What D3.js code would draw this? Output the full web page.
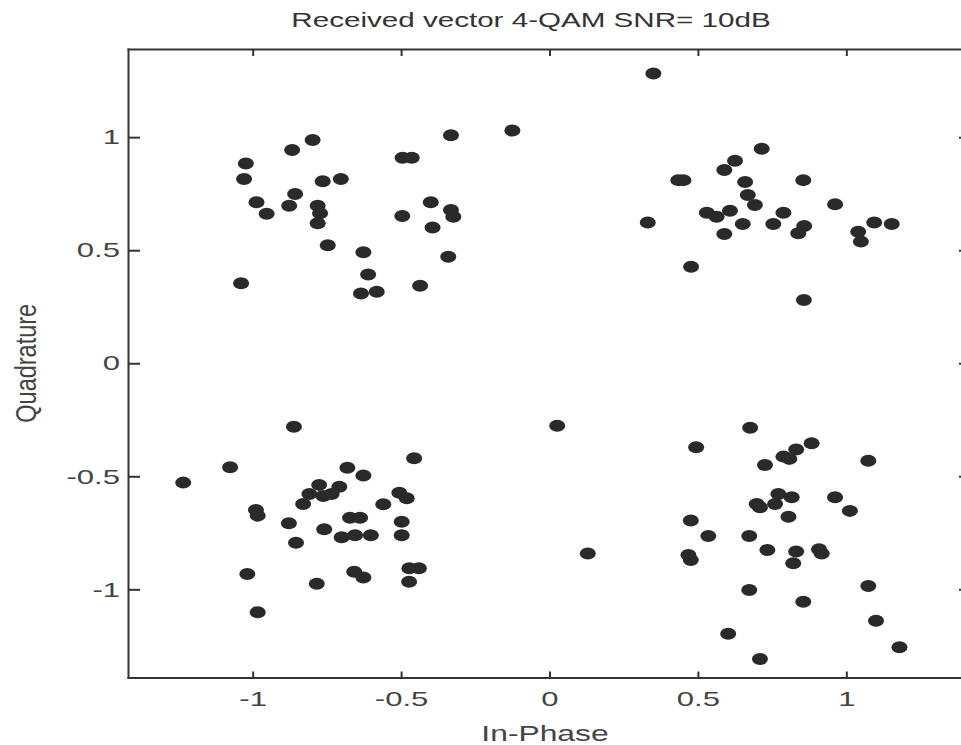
<!DOCTYPE html>
<html>
<head>
<meta charset="utf-8">
<script src="https://cdn.jsdelivr.net/npm/d3@7"></script>
<style>
  body { margin: 0; background: #fff; overflow: hidden; }
  svg { display: block; }
  .axis path, .axis line { stroke: #333; stroke-width: 2; }
  .axis text { font-family: "Liberation Sans", Arial, sans-serif; font-size: 21px; fill: #444; }
</style>
</head>
<body>
<div id="chart"></div>
<script>
// received symbols, [in-phase, quadrature], one list per quadrant
var upperLeft = [
  [-1.023,0.884],[-1.029,0.815],[-0.987,0.712],[-0.953,0.661],[-0.867,0.943],[-0.798,0.987],
  [-0.857,0.749],[-0.877,0.697],[-0.764,0.805],[-0.703,0.815],[-0.781,0.697],[-0.773,0.663],
  [-0.781,0.619],[-0.747,0.522],[-0.627,0.491],[-0.611,0.393],[-0.635,0.309],[-0.582,0.316],
  [-1.039,0.354],[-0.495,0.909],[-0.464,0.909],[-0.332,1.009],[-0.125,1.029],[-0.400,0.712],
  [-0.332,0.678],[-0.324,0.648],[-0.496,0.651],[-0.394,0.600],[-0.341,0.471],[-0.436,0.343]
];
var upperRight = [
  [0.350,1.282],[0.715,0.949],[0.625,0.896],[0.589,0.855],[0.434,0.810],[0.451,0.810],
  [0.659,0.802],[0.855,0.810],[0.668,0.744],[0.692,0.700],[0.962,0.703],[0.530,0.666],
  [0.563,0.648],[0.608,0.675],[0.651,0.616],[0.589,0.572],[0.754,0.616],[0.788,0.666],
  [0.858,0.607],[0.838,0.575],[1.040,0.582],[1.049,0.538],[1.094,0.623],[1.153,0.616],
  [0.331,0.623],[0.477,0.427],[0.857,0.280]
];
var lowerLeft = [
  [-0.861,-0.281],[-1.076,-0.460],[-1.234,-0.528],[-0.456,-0.420],[-0.681,-0.462],[-0.627,-0.496],
  [-0.776,-0.538],[-0.708,-0.546],[-0.809,-0.578],[-0.762,-0.587],[-0.734,-0.578],[-0.830,-0.623],
  [-0.560,-0.624],[-0.506,-0.573],[-0.481,-0.597],[-0.989,-0.649],[-0.983,-0.674],[-0.878,-0.708],
  [-0.854,-0.794],[-0.759,-0.734],[-0.672,-0.683],[-0.638,-0.683],[-0.700,-0.770],[-0.655,-0.761],
  [-0.602,-0.761],[-0.498,-0.701],[-0.498,-0.761],[-1.018,-0.932],[-0.983,-1.101],[-0.784,-0.975],
  [-0.658,-0.922],[-0.627,-0.948],[-0.472,-0.907],[-0.440,-0.907],[-0.473,-0.966]
];
var lowerRight = [
  [0.026,-0.276],[0.129,-0.841],[0.676,-0.285],[0.494,-0.372],[0.726,-0.450],[0.788,-0.413],
  [0.808,-0.423],[0.831,-0.381],[0.883,-0.354],[1.074,-0.431],[0.771,-0.578],[0.816,-0.593],
  [0.760,-0.623],[0.698,-0.623],[0.709,-0.637],[0.805,-0.679],[0.962,-0.593],[1.012,-0.653],
  [0.476,-0.696],[0.535,-0.764],[0.673,-0.764],[0.734,-0.826],[0.831,-0.833],[0.821,-0.885],
  [0.908,-0.823],[0.917,-0.841],[0.468,-0.848],[0.476,-0.870],[0.673,-1.003],[0.855,-1.055],
  [1.074,-0.985],[1.100,-1.139],[0.602,-1.197],[0.709,-1.308],[1.179,-1.256]
];
var xTicks = [-1, -0.5, 0, 0.5, 1];
var yTicks = [-1, -0.5, 0, 0.5, 1];
var titleText = "Received vector 4-QAM SNR= 10dB";
var xLabel = "In-Phase";
var yLabel = "Quadrature";

var width = 961, height = 745;
var margin = {top: 49, right: -10, bottom: 67.5, left: 128};
var stretch = 1.48; // the picture is wider than it is tall, text too

var svg = d3.select("#chart").append("svg")
  .attr("width", width)
  .attr("height", height);

var x = d3.scaleLinear()
  .domain([-1.42, 1.42])
  .range([margin.left, width - margin.right]);

var y = d3.scaleLinear()
  .domain([-1.39, 1.39])
  .range([height - margin.bottom, margin.top]);

var fmt = d => d === 0 ? "0" : String(d).replace("-", "-");

// bottom axis with labels
var gx = svg.append("g")
  .attr("class", "axis")
  .attr("transform", `translate(0,${y.range()[0]})`)
  .call(d3.axisBottom(x).tickValues(xTicks).tickSizeInner(-6).tickSizeOuter(0).tickPadding(14).tickFormat(fmt));
gx.selectAll("text").attr("transform", `scale(${stretch},1)`);

// top axis, ticks only
svg.append("g")
  .attr("class", "axis")
  .attr("transform", `translate(0,${y.range()[1]})`)
  .call(d3.axisTop(x).tickValues(xTicks).tickSizeInner(-7).tickSizeOuter(0).tickFormat(""));

// left axis with labels
var gy = svg.append("g")
  .attr("class", "axis")
  .attr("transform", `translate(${x.range()[0]},0)`)
  .call(d3.axisLeft(y).tickValues(yTicks).tickSizeInner(-12).tickSizeOuter(0).tickPadding(9).tickFormat(fmt));
gy.selectAll("text")
  .attr("x", -8 / stretch)
  .attr("transform", `scale(${stretch},1)`);

// right axis, ticks only
svg.append("g")
  .attr("class", "axis")
  .attr("transform", `translate(${x.range()[1]},0)`)
  .call(d3.axisRight(y).tickValues(yTicks).tickSizeInner(-12).tickSizeOuter(0).tickFormat(""));

svg.selectAll(".axis path").attr("stroke-linecap", "square");

// points
var points = [].concat(upperLeft, upperRight, lowerLeft, lowerRight);

svg.append("g")
  .selectAll("ellipse")
  .data(points)
  .enter().append("ellipse")
    .attr("cx", d => x(d[0]))
    .attr("cy", d => y(d[1]))
    .attr("rx", 8)
    .attr("ry", 6)
    .style("fill", "#2a2a2a");

// title and labels
svg.append("text")
  .attr("transform", `translate(531,27) scale(${stretch},1)`)
  .attr("text-anchor", "middle")
  .style("font-family", "'Liberation Sans', Arial, sans-serif")
  .style("font-size", "20px")
  .style("fill", "#333")
  .text(titleText);

svg.append("text")
  .attr("transform", `translate(545,741) scale(${stretch},1)`)
  .attr("text-anchor", "middle")
  .style("font-family", "'Liberation Sans', Arial, sans-serif")
  .style("font-size", "21.5px")
  .style("fill", "#444")
  .text(xLabel);

svg.append("text")
  .attr("transform", `translate(36,${y(0)}) rotate(-90) scale(1,1.25)`)
  .attr("text-anchor", "middle")
  .style("font-family", "'Liberation Sans', Arial, sans-serif")
  .style("font-size", "23.5px")
  .style("fill", "#444")
  .text(yLabel);
</script>
</body>
</html>
